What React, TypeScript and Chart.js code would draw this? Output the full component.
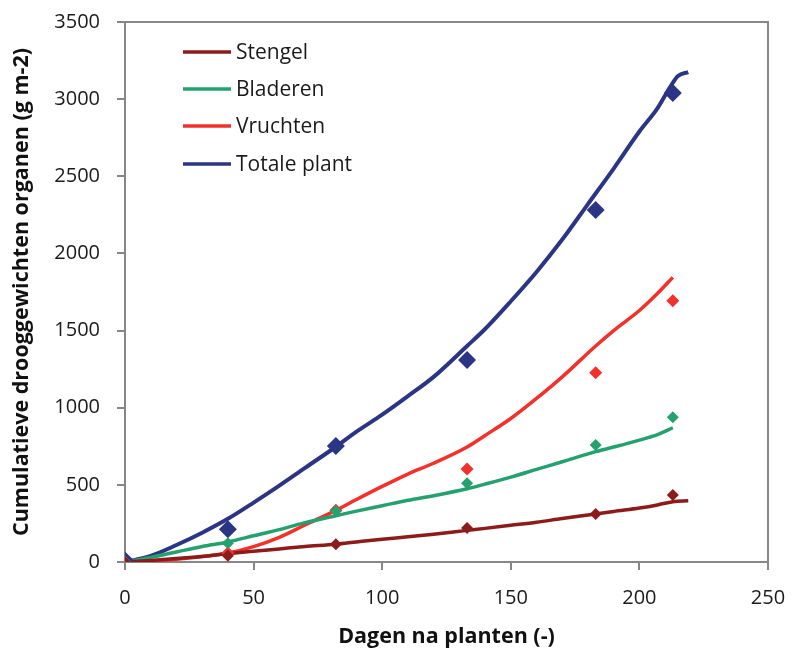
import React, { useEffect, useRef } from "react";
import { Chart, registerables } from "chart.js";

Chart.register(...registerables);

// Series names and colours
const seriesNames = ["Stengel", "Bladeren", "Vruchten", "Totale plant"];
const seriesColors = ["#8C1C1A", "#25A06F", "#F2312B", "#2A3585"];

// Axis ticks
const xTicks = [0, 50, 100, 150, 200, 250];
const yTicks = [0, 500, 1000, 1500, 2000, 2500, 3000, 3500];

// Measured points (markers)
const obsDays = [0, 40, 82, 133, 183, 213];
const obsStengel = [0, 40, 115, 220, 311, 434];
const obsBladeren = [0, 121, 330, 510, 758, 938];
const obsVruchten = [0, 58, 335, 603, 1227, 1693];
const obsTotaal = [10, 212, 752, 1310, 2281, 3040];

// Simulated curves (lines)
const stengelDays = [0, 10, 20, 30, 40, 50, 60, 70, 82, 90, 100, 110, 120, 133, 140, 150, 160, 170, 183, 190, 200, 207, 213, 219];
const simStengel = [0, 10, 22, 35, 55, 70, 85, 100, 115, 130, 148, 163, 180, 205, 218, 238, 258, 282, 311, 328, 350, 370, 391, 397];

const bladerenDays = [0, 10, 20, 30, 40, 50, 60, 70, 82, 90, 100, 110, 120, 133, 140, 150, 160, 170, 183, 190, 200, 207, 213];
const simBladeren = [0, 30, 65, 100, 130, 170, 210, 255, 300, 330, 365, 400, 430, 475, 505, 550, 600, 650, 715, 745, 790, 825, 870];

const vruchtenDays = [0, 10, 20, 30, 40, 50, 60, 70, 82, 90, 100, 110, 120, 133, 140, 150, 160, 170, 183, 190, 200, 207, 213];
const simVruchten = [0, 5, 18, 35, 58, 100, 160, 240, 335, 405, 490, 570, 640, 745, 820, 930, 1060, 1200, 1400, 1500, 1630, 1740, 1845];

const totaalDays = [0, 10, 20, 30, 40, 50, 60, 70, 82, 90, 100, 110, 120, 133, 140, 150, 160, 170, 180, 190, 200, 207, 212, 215, 219];
const simTotaal = [0, 40, 110, 190, 280, 385, 495, 610, 747, 845, 955, 1075, 1200, 1400, 1510, 1690, 1880, 2090, 2320, 2550, 2790, 2940, 3080, 3150, 3175];

const xTitle = "Dagen na planten (-)";
const yTitle = "Cumulatieve drooggewichten organen (g m-2)";

const FONT = "'Open Sans', 'DejaVu Sans', sans-serif";
const AXIS_COLOR = "#878787";

const pts = (xs: number[], ys: number[]) => xs.map((x, i) => ({ x, y: ys[i] }));

const frameAndLegend = {
  id: "frameAndLegend",
  beforeDatasetsDraw(chart: any) {
    const { ctx, chartArea } = chart;
    ctx.save();
    ctx.strokeStyle = AXIS_COLOR;
    ctx.lineWidth = 2;
    ctx.beginPath();
    ctx.moveTo(chartArea.left, chartArea.top);
    ctx.lineTo(chartArea.right, chartArea.top);
    ctx.lineTo(chartArea.right, chartArea.bottom);
    ctx.stroke();
    ctx.restore();
  },
  afterDraw(chart: any) {
    const { ctx } = chart;
    ctx.save();
    const x0 = 183;
    const x1 = 231;
    const rows = [52, 89, 126, 164];
    ctx.font = `21px ${FONT}`;
    ctx.textBaseline = "middle";
    ctx.textAlign = "left";
    seriesNames.forEach((name, i) => {
      ctx.strokeStyle = seriesColors[i];
      ctx.lineWidth = 3.5;
      ctx.beginPath();
      ctx.moveTo(x0, rows[i]);
      ctx.lineTo(x1, rows[i]);
      ctx.stroke();
      ctx.fillStyle = "#1a1a1a";
      ctx.fillText(name, x1 + 5, rows[i] + 1);
    });
    ctx.restore();
  },
};

export default function App() {
  const ref = useRef<HTMLCanvasElement | null>(null);

  useEffect(() => {
    if (!ref.current) return;
    const simSets = [
      pts(stengelDays, simStengel),
      pts(bladerenDays, simBladeren),
      pts(vruchtenDays, simVruchten),
      pts(totaalDays, simTotaal),
    ];
    const obsSets = [obsStengel, obsBladeren, obsVruchten, obsTotaal].map((v) => pts(obsDays, v));
    const markerRadius = [6, 6, 6.5, 9];

    const datasets: any[] = [];
    simSets.forEach((d, i) => {
      datasets.push({
        label: seriesNames[i],
        data: d,
        showLine: true,
        borderColor: seriesColors[i],
        borderWidth: i === 3 ? 4 : 3.5,
        pointRadius: 0,
        tension: 0.4,
        cubicInterpolationMode: "monotone",
        order: 2,
      });
    });
    obsSets.forEach((d, i) => {
      datasets.push({
        label: seriesNames[i] + " (meting)",
        data: d,
        showLine: false,
        pointStyle: "rectRot",
        pointRadius: markerRadius[i],
        backgroundColor: seriesColors[i],
        borderColor: seriesColors[i],
        borderWidth: 0,
        order: 1,
      });
    });

    const tickFont = { family: FONT, size: 20 };
    const titleFont = { family: FONT, size: 21.5, weight: "bold" as const };

    const chart = new Chart(ref.current, {
      type: "scatter",
      data: { datasets },
      options: {
        animation: false,
        responsive: false,
        maintainAspectRatio: false,
        layout: { padding: { top: 22, right: 25, left: 0, bottom: 0 } },
        plugins: {
          legend: { display: false },
          tooltip: { enabled: false },
        },
        scales: {
          x: {
            type: "linear",
            min: 0,
            max: 250,
            afterBuildTicks: (s: any) => {
              s.ticks = xTicks.map((v) => ({ value: v }));
            },
            afterFit: (s: any) => {
              s.height = 95;
              s.paddingLeft = 0;
              s.paddingRight = 0;
            },
            ticks: {
              font: tickFont,
              color: "#1a1a1a",
              padding: 16,
              maxRotation: 0,
              autoSkip: false,
              callback: (v: any) => String(v),
            },
            grid: {
              drawOnChartArea: false,
              drawTicks: true,
              tickLength: 8,
              color: AXIS_COLOR,
              lineWidth: 2,
            },
            border: { display: true, color: AXIS_COLOR, width: 2 },
            title: {
              display: true,
              text: xTitle,
              font: titleFont,
              color: "#111",
              padding: { top: 0, bottom: 7 },
            },
          },
          y: {
            type: "linear",
            min: 0,
            max: 3500,
            afterBuildTicks: (s: any) => {
              s.ticks = yTicks.map((v) => ({ value: v }));
            },
            afterFit: (s: any) => {
              s.width = 125;
              s.paddingTop = 0;
              s.paddingBottom = 0;
            },
            ticks: {
              font: tickFont,
              color: "#1a1a1a",
              padding: 17,
              autoSkip: false,
              callback: (v: any) => String(v),
            },
            grid: {
              drawOnChartArea: false,
              drawTicks: true,
              tickLength: 8,
              color: AXIS_COLOR,
              lineWidth: 2,
            },
            border: { display: true, color: AXIS_COLOR, width: 2 },
            title: {
              display: true,
              text: yTitle,
              font: titleFont,
              color: "#111",
              padding: { top: 9, bottom: 0 },
            },
          },
        },
      },
      plugins: [frameAndLegend],
    });
    return () => chart.destroy();
  }, []);

  return (
    <div style={{ position: "absolute", left: 0, top: 0, width: 793, height: 657, background: "#fff" }}>
      <canvas ref={ref} width={793} height={657} style={{ display: "block", width: 793, height: 657 }} />
    </div>
  );
}
